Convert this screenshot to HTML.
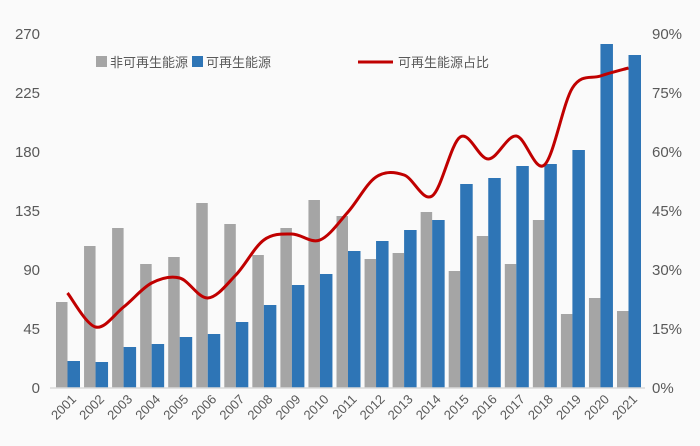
<!DOCTYPE html><html><head><meta charset="utf-8"><style>body{margin:0;background:#fafafa}svg{display:block}text{font-family:"Liberation Sans","Noto Sans CJK SC",sans-serif;fill:#595959}</style></head><body>
<svg width="700" height="446" viewBox="0 0 700 446" xmlns="http://www.w3.org/2000/svg">
<rect width="700" height="446" fill="#fafafa"/>
<g font-size="15" text-anchor="end">
<text x="40" y="39">270</text><text x="40" y="98">225</text><text x="40" y="157">180</text><text x="40" y="216">135</text><text x="40" y="275">90</text><text x="40" y="334">45</text><text x="40" y="393">0</text>
</g>
<g font-size="15" text-anchor="start">
<text x="652" y="39">90%</text><text x="652" y="98">75%</text><text x="652" y="157">60%</text><text x="652" y="216">45%</text><text x="652" y="275">30%</text><text x="652" y="334">15%</text><text x="652" y="393">0%</text>
</g>
<g fill="#a5a5a5">
<rect x="56" y="302" width="11.5" height="86"/>
<rect x="84.05" y="246" width="11.5" height="142"/>
<rect x="112.1" y="228" width="11.5" height="160"/>
<rect x="140.15" y="264" width="11.5" height="124"/>
<rect x="168.2" y="257" width="11.5" height="131"/>
<rect x="196.25" y="203" width="11.5" height="185"/>
<rect x="224.3" y="224" width="11.5" height="164"/>
<rect x="252.35" y="255" width="11.5" height="133"/>
<rect x="280.4" y="228" width="11.5" height="160"/>
<rect x="308.45" y="200" width="11.5" height="188"/>
<rect x="336.5" y="216" width="11.5" height="172"/>
<rect x="364.55" y="259" width="11.5" height="129"/>
<rect x="392.6" y="253" width="11.5" height="135"/>
<rect x="420.65" y="212" width="11.5" height="176"/>
<rect x="448.7" y="271" width="11.5" height="117"/>
<rect x="476.75" y="236" width="11.5" height="152"/>
<rect x="504.8" y="264" width="11.5" height="124"/>
<rect x="532.85" y="220" width="11.5" height="168"/>
<rect x="560.9" y="314" width="11.5" height="74"/>
<rect x="588.95" y="298" width="11.5" height="90"/>
<rect x="617" y="311" width="11.5" height="77"/>
</g>
<g fill="#2e75b6">
<rect x="67.5" y="361" width="12.5" height="27"/>
<rect x="95.55" y="362" width="12.5" height="26"/>
<rect x="123.6" y="347" width="12.5" height="41"/>
<rect x="151.65" y="344" width="12.5" height="44"/>
<rect x="179.7" y="337" width="12.5" height="51"/>
<rect x="207.75" y="334" width="12.5" height="54"/>
<rect x="235.8" y="322" width="12.5" height="66"/>
<rect x="263.85" y="305" width="12.5" height="83"/>
<rect x="291.9" y="285" width="12.5" height="103"/>
<rect x="319.95" y="274" width="12.5" height="114"/>
<rect x="348" y="251" width="12.5" height="137"/>
<rect x="376.05" y="241" width="12.5" height="147"/>
<rect x="404.1" y="230" width="12.5" height="158"/>
<rect x="432.15" y="220" width="12.5" height="168"/>
<rect x="460.2" y="184" width="12.5" height="204"/>
<rect x="488.25" y="178" width="12.5" height="210"/>
<rect x="516.3" y="166" width="12.5" height="222"/>
<rect x="544.35" y="164" width="12.5" height="224"/>
<rect x="572.4" y="150" width="12.5" height="238"/>
<rect x="600.45" y="44" width="12.5" height="344"/>
<rect x="628.5" y="55" width="12.5" height="333"/>
</g>
<line x1="50" y1="388" x2="645" y2="388" stroke="#d9d9d9" stroke-width="1.5"/>
<path id="ln" fill="none" stroke="#c00000" stroke-width="3"/>
<g font-size="13" text-anchor="end">
<text transform="translate(77,400) rotate(-45)">2001</text>
<text transform="translate(105.05,400) rotate(-45)">2002</text>
<text transform="translate(133.1,400) rotate(-45)">2003</text>
<text transform="translate(161.15,400) rotate(-45)">2004</text>
<text transform="translate(189.2,400) rotate(-45)">2005</text>
<text transform="translate(217.25,400) rotate(-45)">2006</text>
<text transform="translate(245.3,400) rotate(-45)">2007</text>
<text transform="translate(273.35,400) rotate(-45)">2008</text>
<text transform="translate(301.4,400) rotate(-45)">2009</text>
<text transform="translate(329.45,400) rotate(-45)">2010</text>
<text transform="translate(357.5,400) rotate(-45)">2011</text>
<text transform="translate(385.55,400) rotate(-45)">2012</text>
<text transform="translate(413.6,400) rotate(-45)">2013</text>
<text transform="translate(441.65,400) rotate(-45)">2014</text>
<text transform="translate(469.7,400) rotate(-45)">2015</text>
<text transform="translate(497.75,400) rotate(-45)">2016</text>
<text transform="translate(525.8,400) rotate(-45)">2017</text>
<text transform="translate(553.85,400) rotate(-45)">2018</text>
<text transform="translate(581.9,400) rotate(-45)">2019</text>
<text transform="translate(609.95,400) rotate(-45)">2020</text>
<text transform="translate(638,400) rotate(-45)">2021</text>
</g>
<rect x="96" y="56" width="11" height="11" fill="#a5a5a5"/><text x="110" y="67" font-size="13">非可再生能源</text>
<rect x="192" y="56" width="11" height="11" fill="#2e75b6"/><text x="206" y="67" font-size="13">可再生能源</text>
<line x1="358" y1="62" x2="393" y2="62" stroke="#c00000" stroke-width="3"/><text x="398" y="67" font-size="13">可再生能源占比</text>
<script>
var l=[293,327,307,283,278,298,275,240,234,240,212,177,175,196,137,159,136,165,88,76,68];
var P=[];for(var i=0;i<21;i++)P.push([67.5+28.05*i,l[i]]);
var d='M'+P[0][0]+','+P[0][1];
for(var i=0;i<20;i++){var p0=P[Math.max(i-1,0)],p1=P[i],p2=P[i+1],p3=P[Math.min(i+2,20)];
d+=' C'+(p1[0]+(p2[0]-p0[0])/6)+','+(p1[1]+(p2[1]-p0[1])/6)+' '+(p2[0]-(p3[0]-p1[0])/6)+','+(p2[1]-(p3[1]-p1[1])/6)+' '+p2[0]+','+p2[1];}
document.getElementById('ln').setAttribute('d',d);
</script>
</svg></body></html>
